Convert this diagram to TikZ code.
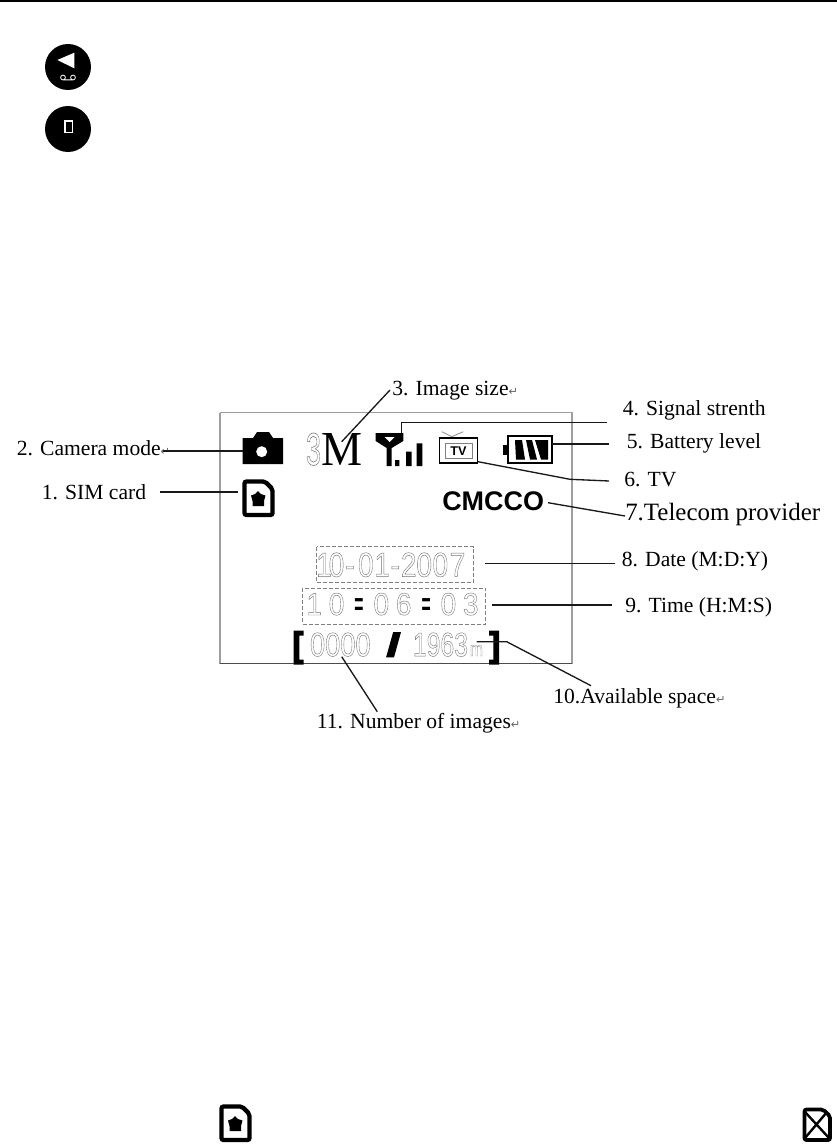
\documentclass[tikz,border=0pt]{standalone}
\usepackage{fontspec}
\usepackage{graphicx}
\setmainfont{Liberation Serif}
\newfontfamily\sansb{Liberation Sans}
\newfontfamily\dejavu{DejaVu Sans}
\definecolor{lcdgray}{gray}{0.5}
\definecolor{framegray}{gray}{0.62}
\newcommand{\hollowon}{\special{pdf:code 1 Tr 0.45 G 0.13 w}}
\newcommand{\hollowoff}{\special{pdf:code 0 Tr 0 G}}
\newcommand{\hollow}[1]{\hollowon#1\hollowoff}
\newcommand{\heavy}[1]{\special{pdf:code 2 Tr 0 G 0.5 w}#1\special{pdf:code 0 Tr}}
\newcommand{\ret}{{\dejavu\fontsize{8.5}{8.5}\selectfont\textcolor{black!60}{↵}}}
\newcommand{\lcdbox}[3]{\resizebox{\dimexpr #1pt*3/4\relax}{\dimexpr #2pt*3/4\relax}{#3}}
% one LCD glyph in a cell of #1 picture pixels (the row is scaled 2.8 px per pt)
\newcommand{\cellh}[2]{\makebox[\dimexpr #1pt*10/28\relax][c]{\hollow{#2}}}
\newcommand{\dotsb}[1]{\makebox[\dimexpr #1pt*10/28\relax][c]{\raisebox{1.4pt}{\scalebox{2}[0.75]{\bfseries :}}}}
\tikzset{
  lbl/.style={anchor=base west,inner sep=0pt,font=\fontsize{16.2}{18}\selectfont},
  leader/.style={draw=black!90,line width=1pt},
  dashbox/.style={draw=lcdgray,line width=0.5pt,dash pattern=on 3pt off 1.5pt},
  lcdt/.style={anchor=north west,inner sep=0pt,outer sep=0pt},
}
\newcommand{\simicon}[2]{%
  \begin{scope}[shift={(#1,#2)}]
    \draw[line width=3.2pt,line join=miter,rounded corners=1.5pt] (3.5,2.5) -- (24,2.5) -- (31.5,10) -- (31.5,36) -- (3.5,36) -- cycle;
    \fill (17,12) -- (20,15) -- (24.5,16.5) -- (23,22) -- (23,27) -- (11.5,27) -- (11.5,22) -- (10,16.5) -- (14,15) -- cycle;
  \end{scope}}
\begin{document}
\begin{tikzpicture}[x=0.75pt,y=-0.75pt]
\useasboundingbox (0,0) rectangle (837,1145);
\fill[white] (0,0) rectangle (837,1145);
% header rule
\coordinate (ruleL) at (0,1); \coordinate (ruleR) at (837,1);
\draw[line width=1.2pt] (ruleL) -- (ruleR);
% round buttons
\fill (68,67) circle (23);
\fill[white] (57.3,60) -- (74.3,52.7) -- (74.3,68.3) -- cycle;
\draw[white,line width=0.6pt] (63,77.5) circle (2.4) (73,77.5) circle (2.4) (63,79.9) -- (73,79.9);
\fill (68,129) circle (23);
\draw[white,line width=1.1pt] (65,121) rectangle (72.5,132.5);
% LCD frame
\draw[framegray,line width=0.8pt] (220,412.5) -- (572,412.5) -- (572,664);
\draw[framegray,line width=0.8pt] (220,412.5) -- (220,664);
\draw[black!70,line width=0.9pt] (220,663.7) -- (572,663.7);
% camera
\coordinate (camL) at (242.7,451);
\fill (242.7,438) -- (253,438) -- (257,432) -- (269,432) -- (273,438) -- (283,438) -- (283,464) -- (242.7,464) -- cycle;
\fill[white] (261.7,451.7) circle (5.5);
% SIM
\simicon{241}{479}
\coordinate (simL) at (238,492);
% 3M
\node[lcdt] (three) at (306,433) {\lcdbox{15}{32}{\sansb\hollow{3}}};
\node[lcdt] (emm) at (321,433) {\lcdbox{41}{32}{M}};
\coordinate (emmP) at (341.7,441.7);
% signal
\fill (375.7,433) -- (403.3,433) -- (403.3,441) -- (391.7,448) -- (391.7,466) -- (386.7,466) -- (386.7,448) -- (375.7,441) -- cycle;
\fill[white] (384.5,437) -- (394.5,437) -- (389.5,442) -- cycle;
\fill (395,460) rectangle (399.3,466) (406,451.7) rectangle (411.7,466) (416.7,443.3) rectangle (422.3,466);
\coordinate (sigT) at (401.5,433);
% TV
\draw[black!40,line width=0.7pt] (441.7,431.7) -- (451.7,436.7) -- (463.3,431.7);
\draw[line width=1.4pt] (439.5,438) rectangle (477.5,463);
\draw[line width=0.4pt,black!50] (445,443.5) rectangle (472,458);
\node[inner sep=0pt,font=\sansb\bfseries\fontsize{9.5}{10}\selectfont] (tv) at (458.5,451) {TV};
\coordinate (tvR) at (478,461.7);
\coordinate (tvM) at (570,479.3);
% battery
\draw[line width=1.3pt] (508,436.3) rectangle (552,463);
\fill (503.3,445) rectangle (508,455);
\fill (515,440) -- (522,440) -- (525,459.5) -- (516,459.5) -- cycle;
\fill (526,440) -- (532,440) -- (537,459.5) -- (530,459.5) -- cycle;
\fill (535,440) -- (548,440) -- (548,459.5) -- (541,459.5) -- cycle;
\coordinate (batR) at (552,444);
% CMCCO
\node[anchor=west,inner sep=0pt,font=\sansb\bfseries\fontsize{20.2}{22}\selectfont] (cmcco) at (442,501) {CMCCO};
\coordinate (cmR) at (548,502.7);
% date/time
\draw[dashbox] (316.7,546.7) rectangle (473.3,582.7);
\draw[dashbox] (302.3,588.3) rectangle (485.7,624);
\node[lcdt] (date) at (318,552.7) {\lcdbox{148.3}{24}{\sansb\cellh{12}{1}\cellh{13}{0}\cellh{14}{-}\cellh{17.7}{0}\cellh{14.8}{1}\cellh{11.5}{-}\cellh{15.5}{2}\cellh{15.5}{0}\cellh{16.7}{0}\cellh{17.6}{7}}};
\node[lcdt] (time) at (303,593) {\lcdbox{179}{22}{\sansb\cellh{22.4}{1}\cellh{22.4}{0}\dotsb{22.4}\cellh{22.4}{0}\cellh{22.4}{6}\dotsb{22.4}\cellh{22.4}{0}\cellh{22.4}{3}}};
\coordinate (dateR) at (485,563.7);
\coordinate (timeR) at (491.7,605);
% counters
\node[lcdt] (lb) at (292.7,631.5) {\lcdbox{10.5}{25}{\sansb\bfseries\heavy{[}}};
\node[lcdt] (cnt) at (310,632.7) {\lcdbox{60.7}{23.5}{\sansb\hollow{0000}}};
\node[lcdt] (slash) at (387,633) {\lcdbox{13}{23}{\sansb\bfseries\heavy{/}}};
\node[lcdt] (tot) at (413,632.7) {\lcdbox{55}{23.5}{\sansb\hollow{1963}}};
\node[lcdt] (mm) at (470,645) {\lcdbox{13}{11}{\sansb\hollow{m}}};
\node[lcdt] (rb) at (489.5,631.5) {\lcdbox{10.5}{25}{\sansb\bfseries\heavy{]}}};
\coordinate (mP) at (476.7,641.7);
\coordinate (mK) at (506.7,641.7);
\coordinate (cntB) at (341.7,656.7);
% labels
\node[lbl] (l2) at (16.5,455.7) {2. Camera mode\ret};
\node[lbl] (l1) at (41.5,499) {1. SIM card};
\node[lbl] (l3) at (392,395) {3. Image size\ret};
\node[lbl] (l4) at (622.5,415) {4. Signal strenth};
\node[lbl] (l5) at (626.5,448) {5. Battery level};
\node[lbl] (l6) at (624,486.7) {6. TV};
\node[lbl,font=\fontsize{18.7}{20}\selectfont] (l7) at (625,520.7) {7.Telecom provider};
\node[lbl] (l8) at (621.5,566) {8. Date (M:D:Y)};
\node[lbl] (l9) at (625,612.3) {9. Time (H:M:S)};
\node[lbl] (l10) at (553,703.3) {10.Available space\ret};
\node[lbl] (l11) at (316.5,728.3) {11. Number of images\ret};
% leader ends
\coordinate (e2) at (163,451);
\coordinate (e1) at (160,492);
\coordinate (e3) at (390,390);
\coordinate (k4) at (401.5,422.5);
\coordinate (e4) at (607,422.5);
\coordinate (e5) at (609,444);
\coordinate (e6) at (609,481);
\coordinate (e7) at (625,516);
\coordinate (e8) at (615,563.7);
\coordinate (e9) at (611.7,605);
\coordinate (e10) at (591,685.7);
\coordinate (e11) at (377.3,711.7);
\draw[leader] (e2) -- (camL);
\draw[leader] (e1) -- (simL);
\draw[leader] (emmP) -- (e3);
\draw[leader] (sigT) -- (k4) -- (e4);
\draw[leader] (batR) -- (e5);
\draw[leader] (tvR) -- (tvM) -- (e6);
\draw[leader] (cmR) -- (e7);
\draw[leader] (dateR) -- (e8);
\draw[leader] (timeR) -- (e9);
\draw[leader] (mP) -- (mK) -- (e10);
\draw[leader] (cntB) -- (e11);
% bottom icons
\simicon{218}{1104}
\begin{scope}[shift={(802,1107)}]
  \draw[line width=2.8pt,line join=miter,rounded corners=1.5pt] (2.5,2.5) -- (21,2.5) -- (28,9) -- (28,33) -- (2.5,33) -- cycle;
  \draw[line width=1.8pt] (3,5) -- (27,31) (25,5) -- (3,31);
\end{scope}
\end{tikzpicture}
\end{document}
